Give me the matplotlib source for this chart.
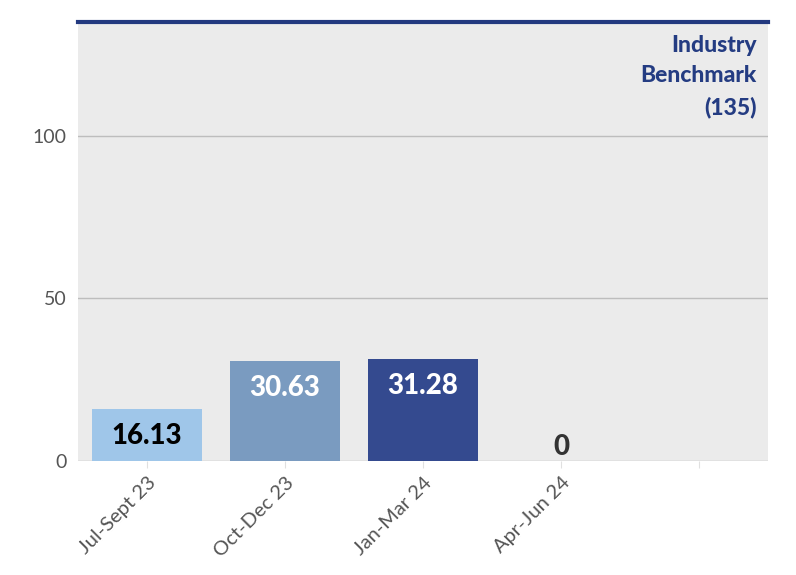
import matplotlib
matplotlib.use("Agg")
import matplotlib.pyplot as plt

categories = ["Jul-Sept 23", "Oct-Dec 23", "Jan-Mar 24", "Apr-Jun 24", ""]
values = [16.13, 30.63, 31.28, 0, None]
label_texts = ["16.13", "30.63", "31.28", "0"]
bar_colors = ["#9fc6e9", "#7a9bc0", "#344a8f", "#344a8f"]
label_colors = ["#000000", "#ffffff", "#ffffff", "#333333"]
benchmark = 135
yticks = [0, 50, 100]

plt.rcParams['font.family'] = ['Lato', 'DejaVu Sans']

fig = plt.figure(figsize=(7.96, 5.75), dpi=100)
ax = fig.add_axes([0.098, 0.198, 0.867, 0.764])
ax.set_facecolor("#ebebeb")

x = list(range(len(categories)))
for i, v in enumerate(values):
    if v is None:
        continue
    ax.bar(i, v, width=0.8, color=bar_colors[i], zorder=3)
    if v > 0:
        ax.annotate(label_texts[i], (i, v), xytext=(0, -10), textcoords="offset points",
                    ha="center", va="top", fontsize=20, fontweight="black",
                    color=label_colors[i], zorder=4)
    else:
        ax.annotate(label_texts[i], (i, v), xytext=(0, 0.5), textcoords="offset points",
                    ha="center", va="bottom", fontsize=20, fontweight="black",
                    color=label_colors[i], zorder=4)

ax.axhline(benchmark, color="#22397f", linewidth=3, zorder=5, clip_on=False)
ax.text(0.983, 0.97, "Industry\nBenchmark\n(135)", transform=ax.transAxes,
        ha="right", va="top", fontsize=16.5, fontweight="black", color="#243c82",
        linespacing=1.55)

ax.set_xlim(-0.5, len(categories) - 0.5)
ax.set_ylim(0, benchmark)
ax.set_yticks(yticks)
ax.set_yticklabels([str(t) for t in yticks])
ax.set_xticks(x)
ax.set_xticklabels(categories, rotation=45, ha="right", rotation_mode="anchor")
ax.grid(axis="y", color="#bdbdbd", linewidth=1, zorder=1)
ax.set_axisbelow(True)
for s in ax.spines.values():
    s.set_visible(False)
ax.tick_params(axis="y", length=0, labelsize=14, labelcolor="#555555", pad=8)
ax.tick_params(axis="x", length=5, color="#e0e0e0", labelsize=14.5, labelcolor="#555555", pad=4)

fig.savefig("out.png", dpi=100)
